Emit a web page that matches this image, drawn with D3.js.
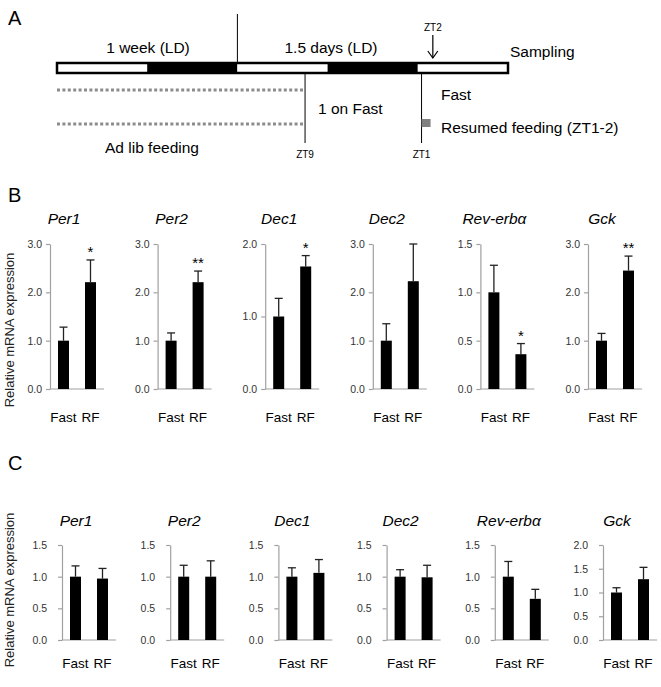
<!DOCTYPE html>
<html><head><meta charset="utf-8">
<script src="https://cdn.jsdelivr.net/npm/d3@7"></script>
<style>
body{margin:0;background:#fff;}
svg{display:block;font-family:"Liberation Sans",Arial,sans-serif;}
</style></head><body>
<svg id="chart" width="661" height="687"></svg>
<script>
// ---------------- Data ----------------
const genes = ["Per1", "Per2", "Dec1", "Dec2", "Rev-erbα", "Gck"];
const groups = ["Fast", "RF"];

// Panel B
const bMeans  = [[1.00, 2.21], [1.00, 2.21], [1.00, 1.69], [1.00, 2.23], [1.00, 0.36], [1.00, 2.45]];
const bErrors = [[0.28, 0.46], [0.16, 0.23], [0.25, 0.15], [0.35, 0.77], [0.28, 0.11], [0.15, 0.30]];
const bSig    = ["*", "**", "*", "", "*", "**"];
const bYMax   = [3, 3, 2, 3, 1.5, 3];
const bYStep  = [1, 1, 1, 1, 0.5, 1];

// Panel C
const cMeans  = [[1.00, 0.97], [1.00, 1.00], [1.00, 1.06], [1.00, 0.99], [1.00, 0.65], [1.00, 1.28]];
const cErrors = [[0.17, 0.16], [0.18, 0.25], [0.14, 0.21], [0.11, 0.19], [0.24, 0.15], [0.10, 0.25]];
const cSig    = ["", "", "", "", "", ""];
const cYMax   = [1.5, 1.5, 1.5, 1.5, 1.5, 2];
const cYStep  = [0.5, 0.5, 0.5, 0.5, 0.5, 0.5];

const yTitle = "Relative mRNA expression";

// Panel A timeline (hours, 12 h light / 12 h dark segments)
const segments = ["L", "D", "L", "D", "L"];
const segHours = 12;
const dividerHour = 24;
const zt9Hour = 33;
const zt1Hour = 48.5;
const zt2Hour = 50;
const periodLabels = ["1 week (LD)", "1.5 days (LD)"];
const ztLabels = ["ZT9", "ZT1", "ZT2"];
const feedLabels = ["Fast", "Resumed feeding (ZT1-2)", "1 on Fast", "Ad lib feeding", "Sampling"];
const panelLetters = ["A", "B", "C"];

// ---------------- Drawing ----------------
const svg = d3.select("#chart");
const FONT_BIG = 15.5;

// Panel letters
svg.append("text").attr("x", 8).attr("y", 25).attr("font-size", 20).text(panelLetters[0]);
svg.append("text").attr("x", 8).attr("y", 202).attr("font-size", 20).text(panelLetters[1]);
svg.append("text").attr("x", 8).attr("y", 470).attr("font-size", 20).text(panelLetters[2]);

// ---- Panel A ----
const hx = d3.scaleLinear().domain([0, segments.length * segHours]).range([57, 508]);
const barY = 63, barH = 10;
const gA = svg.append("g");

gA.append("line").attr("x1", hx(dividerHour)).attr("x2", hx(dividerHour))
  .attr("y1", 14).attr("y2", barY).attr("stroke", "#000").attr("stroke-width", 1);

gA.selectAll("rect.seg").data(segments).join("rect")
  .attr("class", "seg")
  .attr("x", (d, i) => hx(i * segHours)).attr("y", barY)
  .attr("width", (d, i) => hx((i + 1) * segHours) - hx(i * segHours)).attr("height", barH)
  .attr("fill", d => d === "L" ? "#fff" : "#000");
gA.append("rect").attr("x", hx(0)).attr("y", barY)
  .attr("width", hx(segments.length * segHours) - hx(0)).attr("height", barH)
  .attr("fill", "none").attr("stroke", "#000").attr("stroke-width", 2.5);

gA.append("text").attr("x", 148).attr("y", 53).attr("text-anchor", "middle").attr("font-size", FONT_BIG).text(periodLabels[0]);
gA.append("text").attr("x", 331).attr("y", 53).attr("text-anchor", "middle").attr("font-size", FONT_BIG).text(periodLabels[1]);

const ax2 = hx(zt2Hour);
gA.append("text").attr("x", ax2).attr("y", 31).attr("text-anchor", "middle").attr("font-size", 10).text(ztLabels[2]);
gA.append("line").attr("x1", ax2).attr("x2", ax2).attr("y1", 35).attr("y2", 58).attr("stroke", "#000").attr("stroke-width", 1.2);
gA.append("path").attr("d", `M${ax2 - 5},${51} L${ax2},${58} L${ax2 + 5},${51}`)
  .attr("fill", "none").attr("stroke", "#000").attr("stroke-width", 1.2);
gA.append("text").attr("x", 510).attr("y", 57).attr("font-size", FONT_BIG).text(feedLabels[4]);

[90, 124].forEach(y => {
  gA.append("line").attr("x1", hx(0)).attr("x2", hx(zt9Hour)).attr("y1", y).attr("y2", y)
    .attr("stroke", "#8c8c8c").attr("stroke-width", 3).attr("stroke-dasharray", "3,2.4");
});

[[zt9Hour, ztLabels[0]], [zt1Hour, ztLabels[1]]].forEach(([h, lab]) => {
  const x = hx(h);
  gA.append("line").attr("x1", x).attr("x2", x).attr("y1", barY + barH + 1).attr("y2", 143)
    .attr("stroke", "#000").attr("stroke-width", 1);
  gA.append("text").attr("x", x).attr("y", 158).attr("text-anchor", "middle").attr("font-size", 10).text(lab);
});

gA.append("text").attr("x", 318).attr("y", 114).attr("font-size", FONT_BIG).text(feedLabels[2]);
gA.append("text").attr("x", 441).attr("y", 100).attr("font-size", FONT_BIG).text(feedLabels[0]);
gA.append("rect").attr("x", hx(zt1Hour)).attr("y", 119).attr("width", 9).attr("height", 8).attr("fill", "#808080");
gA.append("text").attr("x", 441).attr("y", 133).attr("font-size", FONT_BIG).text(feedLabels[1]);
gA.append("text").attr("x", 105).attr("y", 153).attr("font-size", FONT_BIG).text(feedLabels[3]);

// ---- Bar panels ----
function drawPanel(cfg) {
  const { means, errors, sig, yMax, yStep, axis0, spacing, top, bottom, titleY, labelY, tickPad, yTitleC } = cfg;
  const g = svg.append("g");
  genes.forEach((gene, i) => {
    const ax = axis0 + i * spacing;
    const y = d3.scaleLinear().domain([0, yMax[i]]).range([bottom, top]);
    const x = d3.scaleBand().domain(groups).range([ax, ax + 54]).padding(0);
    const bw = 11;
    const p = g.append("g");

    const ticks = d3.range(0, yMax[i] + yStep[i] / 2, yStep[i]);
    const yAxis = d3.axisLeft(y).tickValues(ticks).tickFormat(d3.format(".1f"))
      .tickSize(4).tickSizeOuter(0).tickPadding(tickPad);
    const ag = p.append("g").attr("transform", `translate(${ax},0)`).call(yAxis);
    ag.select(".domain").attr("stroke", "#a0a0a0").attr("stroke-width", 1.2);
    ag.selectAll(".tick line").attr("stroke", "#a0a0a0").attr("stroke-width", 1.2);
    ag.selectAll(".tick text").attr("fill", "#333").attr("font-size", 10.5)
      .attr("font-family", '"Liberation Sans",Arial,sans-serif');

    p.append("line").attr("x1", ax).attr("x2", ax + 54).attr("y1", y(0)).attr("y2", y(0))
      .attr("stroke", "#a0a0a0").attr("stroke-width", 1.2);

    const rows = groups.map((grp, j) => ({ grp, v: means[i][j], e: errors[i][j], s: j === 1 ? sig[i] : "" }));

    rows.forEach(r => {
      const cx = x(r.grp) + x.bandwidth() / 2;
      p.append("line").attr("x1", cx).attr("x2", cx).attr("y1", y(r.v)).attr("y2", y(r.v + r.e))
        .attr("stroke", "#222").attr("stroke-width", 1.3);
      p.append("line").attr("x1", cx - 4).attr("x2", cx + 4).attr("y1", y(r.v + r.e)).attr("y2", y(r.v + r.e))
        .attr("stroke", "#222").attr("stroke-width", 1.3);
      if (r.s) {
        p.append("text").attr("x", cx).attr("y", y(r.v + r.e) - 3).attr("text-anchor", "middle")
          .attr("font-size", 15).text(r.s);
      }
    });

    p.selectAll("rect.bar").data(rows).join("rect").attr("class", "bar")
      .attr("x", d => x(d.grp) + x.bandwidth() / 2 - bw / 2)
      .attr("width", bw)
      .attr("y", d => y(d.v)).attr("height", d => y(0) - y(d.v))
      .attr("fill", "#000");

    rows.forEach(r => {
      p.append("text").attr("x", x(r.grp) + x.bandwidth() / 2).attr("y", labelY)
        .attr("text-anchor", "middle").attr("font-size", 13.5).text(r.grp);
    });

    p.append("text").attr("x", ax + 14).attr("y", titleY).attr("text-anchor", "middle")
      .attr("font-size", 15.5).attr("font-style", "italic").text(gene);
  });

  svg.append("text").attr("transform", `translate(14,${yTitleC}) rotate(-90)`)
    .attr("text-anchor", "middle").attr("font-size", 13).attr("fill", "#222").text(yTitle);
}

drawPanel({ means: bMeans, errors: bErrors, sig: bSig, yMax: bYMax, yStep: bYStep,
  axis0: 50, spacing: 107.6, top: 244, bottom: 389, titleY: 224, labelY: 422, tickPad: 4, yTitleC: 330 });
drawPanel({ means: cMeans, errors: cErrors, sig: cSig, yMax: cYMax, yStep: cYStep,
  axis0: 62, spacing: 108.2, top: 545, bottom: 640, titleY: 526, labelY: 668, tickPad: 11, yTitleC: 590 });
</script>
</body></html>
